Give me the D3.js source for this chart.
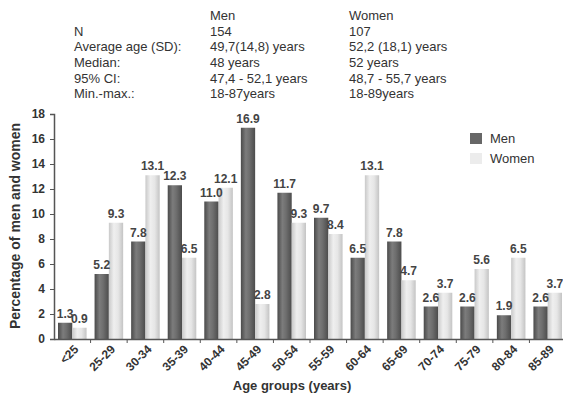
<!DOCTYPE html>
<html><head><meta charset="utf-8">
<script src="https://cdn.jsdelivr.net/npm/d3@7"></script>
<style>body{margin:0;background:#fff}svg{display:block;font-family:"Liberation Sans",Arial,sans-serif}</style>
</head><body><svg id="c" width="563" height="396"></svg>
<script>
const categories = ["<25","25-29","30-34","35-39","40-44","45-49","50-54","55-59","60-64","65-69","70-74","75-79","80-84","85-89"];
const series = ["Men","Women"];
const menValues = [1.3,5.2,7.8,12.3,11.0,16.9,11.7,9.7,6.5,7.8,2.6,2.6,1.9,2.6];
const womenValues = [0.9,9.3,13.1,6.5,12.1,2.8,9.3,8.4,13.1,4.7,3.7,5.6,6.5,3.7];
const yTicks = [0,2,4,6,8,10,12,14,16,18];
const tableHeader = ["", "Men", "Women"];
const tableRows = [
  ["N","154","107"],
  ["Average age (SD):","49,7(14,8) years","52,2 (18,1) years"],
  ["Median:","48 years","52 years"],
  ["95% CI:","47,4 - 52,1 years","48,7 - 55,7 years"],
  ["Min.-max.:","18-87years","18-89years"]
];

const svg = d3.select("#c");
const defs = svg.append("defs");
function grad(id, stops){
  const g = defs.append("linearGradient").attr("id",id).attr("x1","0").attr("x2","1").attr("y1","0").attr("y2","0");
  stops.forEach(([o,c])=>g.append("stop").attr("offset",o).attr("stop-color",c));
}
grad("gMen",[[0,"#4a4a4a"],[0.35,"#7c7c7c"],[0.6,"#6e6e6e"],[1,"#4c4c4c"]]);
grad("gWomen",[[0,"#c9c9c9"],[0.35,"#efefef"],[0.65,"#e6e6e6"],[1,"#c4c4c4"]]);
const fills = {Men:"url(#gMen)", Women:"url(#gWomen)"};

const x0 = d3.scaleBand().domain(categories).range([54,566]).paddingInner(0).paddingOuter(0);
const x1 = d3.scaleBand().domain(series).range([0,x0.step()]).paddingInner(0).paddingOuter(0.28);
const y = d3.scaleLinear().domain([0,18]).range([339,114]);

// header table
const colX = [74,210,349];
const tg = svg.append("g").attr("fill","#333").attr("font-size","13px");
tableHeader.forEach((t,i)=>{ if(t) tg.append("text").attr("x",colX[i]).attr("y",20).text(t); });
tableRows.forEach((r,ri)=>{
  r.forEach((t,i)=>tg.append("text").attr("x",colX[i]).attr("y",35.7+ri*15.6).text(t));
});

// bars
const data = categories.map((c,i)=>({cat:c, vals:[{s:"Men",v:menValues[i]},{s:"Women",v:womenValues[i]}]}));
const groups = svg.append("g").selectAll("g").data(data).join("g")
  .attr("transform",d=>`translate(${x0(d.cat)},0)`);
groups.selectAll("rect").data(d=>d.vals).join("rect")
  .attr("x",d=>x1(d.s)).attr("width",x1.bandwidth())
  .attr("y",d=>y(d.v)).attr("height",d=>y(0)-y(d.v))
  .attr("fill",d=>fills[d.s]);
groups.selectAll("text").data(d=>d.vals).join("text")
  .attr("x",d=>x1(d.s)+x1.bandwidth()/2).attr("y",d=>y(d.v)-5)
  .attr("text-anchor","middle").attr("font-size","12px").attr("font-weight","bold")
  .attr("fill","#444").text(d=>d.v.toFixed(1));

// y axis
const ya = svg.append("g").attr("transform","translate(54,0)")
  .call(d3.axisLeft(y).tickValues(yTicks).tickSize(4).tickPadding(5));
ya.select(".domain").attr("stroke","#555").attr("stroke-width",1.5);
ya.selectAll(".tick line").attr("stroke","#555");
ya.selectAll(".tick text").attr("font-size","12px").attr("font-weight","bold").attr("fill","#333")
  .attr("font-family","Liberation Sans, Arial, sans-serif");

// x axis
const xa = svg.append("g").attr("transform","translate(0,339)")
  .call(d3.axisBottom(x0).tickSize(0).tickSizeOuter(0));
xa.select(".domain").attr("stroke","#555").attr("stroke-width",1.5);
xa.selectAll(".tick text").attr("font-size","12px").attr("font-weight","bold").attr("fill","#333")
  .attr("font-family","Liberation Sans, Arial, sans-serif")
  .attr("text-anchor","end").attr("dy",null).attr("y",0)
  .attr("transform","translate(7,11) rotate(-45)");
// between-category tick marks
svg.append("g").selectAll("line").data(categories.slice(1)).join("line")
  .attr("x1",d=>x0(d)).attr("x2",d=>x0(d)).attr("y1",339).attr("y2",343)
  .attr("stroke","#555");

// axis titles
svg.append("text").attr("transform","translate(20,226) rotate(-90)")
  .attr("text-anchor","middle").attr("font-size","14px").attr("font-weight","bold").attr("fill","#333")
  .text("Percentage of men and women");
svg.append("text").attr("x",292).attr("y",390).attr("text-anchor","middle")
  .attr("font-size","13px").attr("font-weight","bold").attr("fill","#333").text("Age groups (years)");

// legend
const lg = svg.append("g");
series.forEach((s,i)=>{
  lg.append("rect").attr("x",470).attr("y",133+i*20).attr("width",12).attr("height",11)
    .attr("fill",s==="Men"?"#676767":"#ececec");
  lg.append("text").attr("x",490).attr("y",143+i*20).attr("font-size","13px").attr("fill","#333").text(s);
});
</script></body></html>
